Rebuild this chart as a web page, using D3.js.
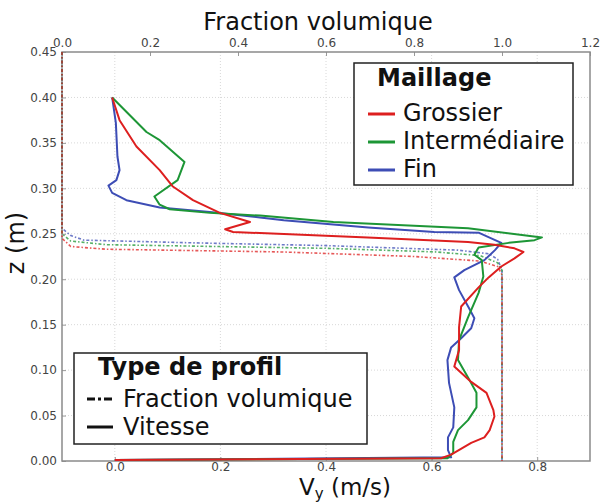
<!DOCTYPE html>
<html><head><meta charset="utf-8">
<script src="https://cdn.jsdelivr.net/npm/d3@7"></script>
<style>body{margin:0;background:#fff}svg{display:block}text{font-family:"DejaVu Sans",sans-serif}</style>
</head><body><svg id="c" width="601" height="504"></svg>
<script>
// Axis ticks
const vyTicks = [0.0, 0.2, 0.4, 0.6, 0.8];
const fracTicks = [0.0, 0.2, 0.4, 0.6, 0.8, 1.0, 1.2];
const zTicks = [0.00, 0.05, 0.10, 0.15, 0.20, 0.25, 0.30, 0.35, 0.40, 0.45];

// Velocity profiles [Vy, z]
const velGrossier = [[-0.005,0.40],[0.009,0.375],[0.041,0.346],[0.085,0.32],[0.11,0.302],[0.148,0.287],[0.199,0.273],[0.256,0.263],[0.209,0.255],[0.224,0.252],[0.479,0.246],[0.669,0.241],[0.719,0.238],[0.757,0.234],[0.774,0.230],[0.757,0.223],[0.732,0.214],[0.708,0.202],[0.689,0.191],[0.656,0.170],[0.652,0.147],[0.652,0.122],[0.643,0.104],[0.675,0.087],[0.704,0.075],[0.717,0.056],[0.719,0.049],[0.71,0.034],[0.70,0.026],[0.675,0.020],[0.637,0.007],[0.618,0.003],[0.0,0.001]];
const velIntermediaire = [[-0.005,0.40],[0.06,0.362],[0.085,0.353],[0.132,0.329],[0.119,0.309],[0.075,0.291],[0.085,0.282],[0.104,0.277],[0.18,0.273],[0.275,0.270],[0.414,0.263],[0.669,0.256],[0.809,0.246],[0.795,0.243],[0.746,0.240],[0.689,0.235],[0.681,0.227],[0.695,0.221],[0.698,0.203],[0.689,0.185],[0.669,0.158],[0.652,0.133],[0.65,0.111],[0.669,0.092],[0.685,0.075],[0.685,0.059],[0.669,0.045],[0.65,0.034],[0.641,0.021],[0.641,0.009],[0.63,0.003],[0.0,0.001]];
const velFin = [[-0.005,0.40],[0.002,0.372],[0.005,0.335],[0.009,0.32],[0.003,0.309],[-0.012,0.303],[-0.005,0.295],[0.022,0.287],[0.085,0.279],[0.18,0.274],[0.275,0.268],[0.32,0.265],[0.48,0.257],[0.605,0.252],[0.69,0.251],[0.713,0.245],[0.732,0.240],[0.72,0.232],[0.70,0.221],[0.662,0.210],[0.643,0.202],[0.652,0.188],[0.671,0.168],[0.681,0.157],[0.675,0.146],[0.656,0.135],[0.637,0.125],[0.63,0.111],[0.633,0.086],[0.643,0.059],[0.641,0.037],[0.631,0.026],[0.631,0.012],[0.637,0.004],[0.0,0.001]];

// Volume fraction profiles [fraction, z]
const fracGrossier = [[0,0.45],[0,0.245],[0.02,0.236],[0.1,0.233],[0.5,0.230],[0.8,0.225],[0.95,0.220],[0.99,0.214],[1.0,0.205],[1.0,0]];
const fracIntermediaire = [[0,0.45],[0,0.25],[0.02,0.242],[0.1,0.238],[0.6,0.234],[0.85,0.230],[0.95,0.226],[0.99,0.218],[1.0,0.21],[1.0,0]];
const fracFin = [[0,0.45],[0,0.256],[0.02,0.248],[0.05,0.243],[0.3,0.240],[0.6,0.237],[0.9,0.232],[0.97,0.228],[0.99,0.222],[1.0,0.21],[1.0,0]];

const meshNames = ["Grossier", "Intermédiaire", "Fin"];
const meshColors = ["#dd1f1f", "#1d9636", "#3d4db5"];
const profileNames = ["Fraction volumique", "Vitesse"];

const L = 62, R = 590, T = 52, B = 461;
const svg = d3.select("#c");
const xV = d3.scaleLinear().domain([-0.1, 0.9]).range([L, R]);
const xF = d3.scaleLinear().domain([0, 1.2]).range([L, R]);
const yZ = d3.scaleLinear().domain([0, 0.45]).range([B, T]);

// grid
const grid = svg.append("g");
grid.selectAll("line.gx").data(vyTicks).join("line")
  .attr("x1", d => xV(d)).attr("x2", d => xV(d)).attr("y1", T).attr("y2", B)
  .attr("stroke", "#d8d8d8").attr("stroke-width", 1).attr("stroke-dasharray", "1,2");
grid.selectAll("line.gy").data(zTicks.slice(1, -1)).join("line")
  .attr("x1", L).attr("x2", R).attr("y1", d => yZ(d)).attr("y2", d => yZ(d))
  .attr("stroke", "#d8d8d8").attr("stroke-width", 1).attr("stroke-dasharray", "1,2");

// axes
const fmt2 = d3.format(".2f"), fmt1 = d3.format(".1f");
const axL = svg.append("g").attr("transform", `translate(${L},0)`)
  .call(d3.axisLeft(yZ).tickValues(zTicks).tickFormat(fmt2).tickSize(-4).tickPadding(5));
const axB = svg.append("g").attr("transform", `translate(0,${B})`)
  .call(d3.axisBottom(xV).tickValues(vyTicks).tickFormat(fmt1).tickSize(-4).tickPadding(1));
const axT = svg.append("g").attr("transform", `translate(0,${T})`)
  .call(d3.axisTop(xF).tickValues(fracTicks).tickFormat(fmt1).tickSize(-4).tickPadding(5));
[axL, axB, axT].forEach(a => {
  a.select(".domain").remove();
  a.selectAll(".tick line").attr("stroke", "#999");
  a.selectAll(".tick text").attr("fill", "#444").style("font-size", "12px").style("font-family", "DejaVu Sans");
});
svg.append("rect").attr("x", L).attr("y", T).attr("width", R - L).attr("height", B - T)
  .attr("fill", "none").attr("stroke", "#8a8a8a").attr("stroke-width", 1.5);

// fraction lines
const fracLine = d3.line().x(d => xF(d[0])).y(d => yZ(d[1]));
[fracFin, fracIntermediaire, fracGrossier].forEach((s, i) => {
  svg.append("path").attr("d", fracLine(s)).attr("fill", "none")
    .attr("stroke", meshColors[2 - i]).attr("stroke-width", 1.6)
    .attr("stroke-dasharray", "3,2,1.5,2").attr("opacity", 0.75);
});
// velocity lines
const velLine = d3.line().x(d => xV(d[0])).y(d => yZ(d[1]));
[velFin, velIntermediaire, velGrossier].forEach((s, i) => {
  svg.append("path").attr("d", velLine(s)).attr("fill", "none")
    .attr("stroke", meshColors[2 - i]).attr("stroke-width", 2).attr("stroke-linejoin", "round");
});

// axis titles
svg.append("text").attr("x", 318).attr("y", 30).attr("text-anchor", "middle")
  .style("font-size", "24px").attr("fill", "#111").text("Fraction volumique");
const vt = svg.append("text").attr("x", 345).attr("y", 495).attr("text-anchor", "middle")
  .style("font-size", "23px").attr("fill", "#111");
vt.append("tspan").text("V");
vt.append("tspan").attr("dy", 4).style("font-size", "15px").text("y");
vt.append("tspan").attr("dy", -4).text(" (m/s)");
svg.append("text").attr("transform", "translate(24,243) rotate(-90)").attr("text-anchor", "middle")
  .style("font-size", "24px").attr("fill", "#111").text("z (m)");

// legend Maillage
const lg1 = svg.append("g");
lg1.append("rect").attr("x", 354).attr("y", 63).attr("width", 219).attr("height", 122)
  .attr("fill", "#fff").attr("stroke", "#222").attr("stroke-width", 1.5);
lg1.append("text").attr("x", 377).attr("y", 86).style("font-size", "24px").style("font-weight", "bold")
  .attr("fill", "#111").text("Maillage");
meshNames.forEach((n, i) => {
  const yb = 121 + i * 28;
  lg1.append("line").attr("x1", 368).attr("x2", 395).attr("y1", yb - 7).attr("y2", yb - 7)
    .attr("stroke", meshColors[i]).attr("stroke-width", 3);
  lg1.append("text").attr("x", 403).attr("y", yb).style("font-size", "24px").attr("fill", "#111").text(n);
});

// legend Type de profil
const lg2 = svg.append("g");
lg2.append("rect").attr("x", 74).attr("y", 353).attr("width", 293).attr("height", 91)
  .attr("fill", "#fff").attr("stroke", "#222").attr("stroke-width", 1.5);
lg2.append("text").attr("x", 98).attr("y", 375).style("font-size", "24px").style("font-weight", "bold")
  .attr("fill", "#111").text("Type de profil");
profileNames.forEach((n, i) => {
  const yb = 407 + i * 28;
  lg2.append("line").attr("x1", 87).attr("x2", 113).attr("y1", yb - 8).attr("y2", yb - 8)
    .attr("stroke", "#111").attr("stroke-width", 3)
    .attr("stroke-dasharray", i === 0 ? "8,3,3,3" : null);
  lg2.append("text").attr("x", 123).attr("y", yb).style("font-size", "24px").attr("fill", "#111").text(n);
});
</script></body></html>
